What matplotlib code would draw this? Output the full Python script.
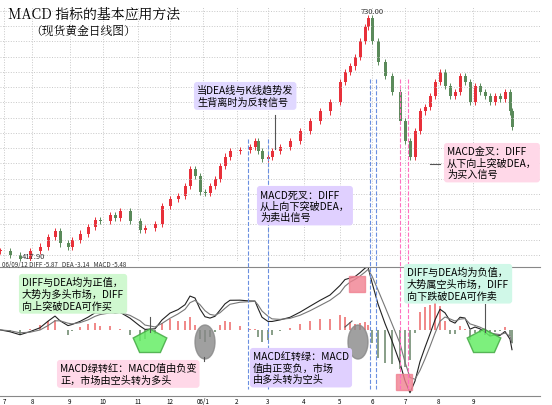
import matplotlib
matplotlib.use("Agg")
import matplotlib.pyplot as plt
import numpy as np
import pandas as pd
from matplotlib.patches import RegularPolygon, Ellipse, Rectangle

plt.rcParams['font.family'] = ['Noto Sans CJK SC', 'DejaVu Sans']

# trading-day positions (chart x units) and closing prices
day = [0,10,20,30,40,48,55,60,68,72,80,88,95,100,110,115,120,130,140,145,155,162,170,178,185,190,195,200,205,210,
       215,220,225,230,240,250,255,258,262,268,272,280,290,300,310,320,330,340,345,350,355,360,365,368,372,378,385,392,
       400,405,410,415,420,425,430,435,440,445,450,455,460,465,470,475,480,485,490,495,500,505,510,512]
close = [425,420,414,425,431,444,451,435,430,440,448,457,466,464,472,469,477,464,453,455,461,484,493,497,510,532,523,503,501,510,
         519,536,549,556,558,562,569,556,546,549,556,562,569,582,595,608,621,647,660,667,680,700,719,730,700,673,654,634,
         595,569,549,582,608,614,628,647,660,641,628,634,654,647,621,641,634,628,621,628,624,634,608,588]
tick_labels = ['7','8','9','10','11','12','06/1','2','3','4','5','6','7','8','9']
tick_pos = [4,32,70,103,138,170,203,237,268,304,340,372,405,438,473]

W, H = 552, 406
fig = plt.figure(figsize=(W/100, H/100), dpi=100)
def fx(x): return x / W
def fy(y): return 1 - y / H

ax1 = fig.add_axes([0, fy(262), fx(540), fy(8) - fy(262)])
ax2 = fig.add_axes([0, fy(397), fx(540), fy(268) - fy(397)])

x = np.array(day, float)
c = np.array(close, float)
o = np.concatenate([[c[0]], c[:-1]])
for xi, oi, ci in zip(x, o, c):
    col = '#e8303a' if ci >= oi else '#5a8a5a'
    ax1.vlines(xi, min(oi, ci) - 4, max(oi, ci) + 4, color=col, lw=0.7)
    ax1.add_patch(Rectangle((xi - 1.5, min(oi, ci)), 3, max(abs(ci - oi), 1.5), color=col, lw=0))
ax1.set_xlim(0, 540)
ax1.set_ylim(412, 745)
ax1.set_xticks(tick_pos)
ax1.set_yticks(np.arange(420, 745, 20))
ax1.grid(True, ls=':', color='#c8c8c8', lw=0.7)
ax1.tick_params(length=0, labelbottom=False, labelleft=False)
for s in ax1.spines.values(): s.set_visible(False)
ax1.text(372, 735, '730.00', fontsize=5.5, ha='center', va='bottom', color='#333')
ax1.text(22, 418, '417.90', fontsize=5.5, va='center', color='#333')

# MACD computed from closes
s = pd.Series(c)
diff = (s.ewm(span=4, adjust=False).mean() - s.ewm(span=9, adjust=False).mean()).values
dea = pd.Series(diff).ewm(span=3, adjust=False).mean().values
macd = 2 * (diff - dea)
ax2.bar(x, macd, width=2.2, color=['#f08a8a' if m >= 0 else '#8aa08a' for m in macd])
ax2.plot(x, diff, color='#222', lw=0.8)
ax2.plot(x, dea, color='#777', lw=0.8)
ax2.set_xlim(0, 540)
lim = max(abs(diff).max(), abs(macd).max()) * 1.05
ax2.set_ylim(-lim, lim * 0.95)
ax2.set_xticks(tick_pos)
ax2.set_xticklabels(tick_labels, fontsize=4.5)
ax2.tick_params(axis='x', length=0, pad=0.5)
ax2.set_yticks([])
for k, sp in ax2.spines.items():
    sp.set_visible(k in ('top', 'bottom')); sp.set_color('#888')
fig.text(fx(2), fy(265), '06/09/12 DIFF -5.87   DEA -3.14   MACD -5.48', fontsize=4.5, va='center', color='#333')

# title
fig.text(fx(8), fy(14), 'MACD 指标的基本应用方法', fontsize=10, family=['Noto Serif CJK SC', 'Noto Sans CJK SC', 'DejaVu Serif'], va='center')
fig.text(fx(30), fy(31), '（现货黄金日线图）', fontsize=8.5, family=['Noto Serif CJK SC', 'Noto Sans CJK SC'], va='center')

# vertical dashed lines
for xv, col in [(248, '#6a8fe0'), (268, '#6a8fe0'), (370, '#6a8fe0'), (376, '#6a8fe0'), (400, '#ff70c0'), (408, '#ff70c0')]:
    fig.add_artist(plt.Line2D([fx(xv)] * 2, [fy(140 if xv < 300 else 80), fy(390)], color=col, lw=0.8, ls='--'))

# shapes
for px, py in [(150, 343), (484, 343)]:
    fig.add_artist(RegularPolygon((fx(px), fy(py)), 5, radius=0.032, color='#66ee66', ec='#44aa44',
                                  transform=fig.transFigure, alpha=0.85))
for px, py in [(205, 343), (358, 343)]:
    fig.add_artist(Ellipse((fx(px), fy(py)), fx(20), fy(0) - fy(34), color='#888', alpha=0.8, transform=fig.transFigure))
for px, py in [(357, 285), (404, 383)]:
    fig.add_artist(Rectangle((fx(px - 8), fy(py + 8)), fx(16), fy(0) - fy(16), color='#f08090', alpha=0.8, transform=fig.transFigure))

def box(px, py, txt, fc):
    fig.text(fx(px), fy(py), txt, fontsize=7.3, va='top', ha='left', linespacing=1.2,
             bbox=dict(boxstyle='round,pad=0.3', fc=fc, ec='none'))

box(197, 86, '当DEA线与K线趋势发\n生背离时为反转信号', '#e0d8ff')
box(260, 190, 'MACD死叉：DIFF\n从上向下突破DEA，\n为卖出信号', '#e0d0ff')
box(447, 147, 'MACD金叉：DIFF\n从下向上突破DEA，\n为买入信号', '#ffd8e8')
box(22, 278, 'DIFF与DEA均为正值，\n大势为多头市场，DIFF\n向上突破DEA可作买', '#d0f8d0')
box(60, 364, 'MACD绿转红：MACD值由负变\n正，市场由空头转为多头', '#ffd8e8')
box(253, 352, 'MACD红转绿：MACD\n值由正变负，市场\n由多头转为空头', '#e0d0ff')
box(407, 268, 'DIFF与DEA均为负值，\n大势属空头市场，DIFF\n向下跌破DEA可作卖', '#d0f8e8')

# pointer lines
for (x0, y0, x1, y1) in [(275, 116, 275, 150), (150, 318, 150, 333), (204, 358, 204, 362),
                         (345, 328, 352, 322), (485, 305, 485, 333), (440, 165, 430, 165)]:
    fig.add_artist(plt.Line2D([fx(x0), fx(x1)], [fy(y0), fy(y1)], color='#555', lw=0.8))

fig.savefig('out.png', dpi=100)
